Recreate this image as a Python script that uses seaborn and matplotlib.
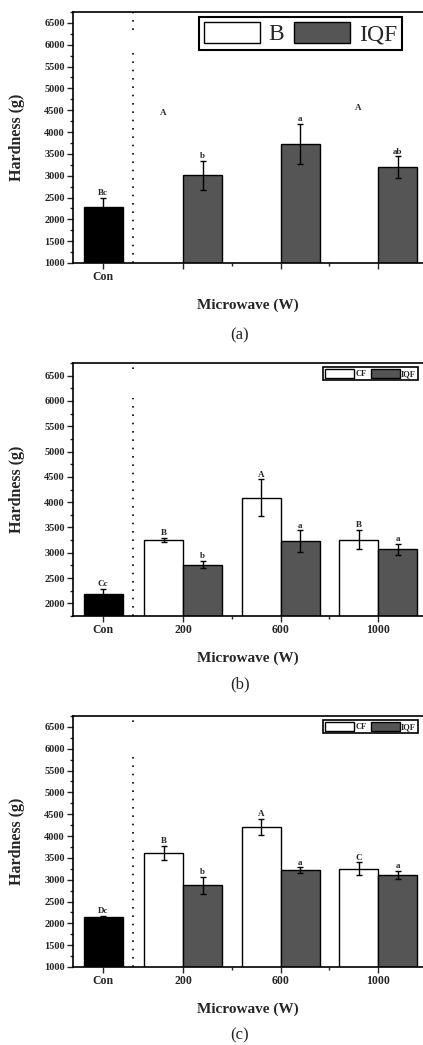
import numpy as np
import pandas as pd
import matplotlib
matplotlib.use('Agg')
import matplotlib.pyplot as plt
import seaborn as sns
from matplotlib.patches import Patch
from matplotlib.ticker import MultipleLocator

# ---------------- data ----------------
powers = ['200', '600', '1000']

# (a)
a_con, a_con_err, a_con_lab = 2290, 200, 'Bc'
a_iqf = [3010, 3720, 3190]
a_iqf_err = [330, 460, 250]
a_iqf_lab = ['b', 'a', 'ab']
a_cf_lab = ['A', '', 'A']
a_cf_lab_y = [4330, np.nan, 4440]   # letters shown without CF bars

# (b)
b_con, b_con_err, b_con_lab = 2190, 90, 'Cc'
b_cf = [3260, 4090, 3260]
b_cf_err = [40, 360, 195]
b_cf_lab = ['B', 'A', 'B']
b_iqf = [2760, 3230, 3070]
b_iqf_err = [70, 210, 110]
b_iqf_lab = ['b', 'a', 'a']

# (c)
c_con, c_con_err, c_con_lab = 2140, 30, 'Dc'
c_cf = [3610, 4210, 3250]
c_cf_err = [170, 180, 145]
c_cf_lab = ['B', 'A', 'C']
c_iqf = [2870, 3220, 3110]
c_iqf_err = [190, 60, 100]
c_iqf_lab = ['b', 'a', 'a']

# ---------------- style ----------------
sns.set_style('ticks')
plt.rcParams['font.family'] = ['Liberation Serif', 'DejaVu Serif']

IQF_COL = '#555555'
CON_POS = 1.18
GROUP_POS = [2, 3, 4]
OFF = 0.2


def letter(ax, x, y, s):
    if s and not np.isnan(y):
        ax.annotate(s, (x, y), xytext=(0, 3.5), textcoords='offset points',
                    ha='center', va='center', fontsize=6.5, fontweight='bold')


def panel(ax, con, con_err, con_lab, cf, cf_err, cf_lab, iqf, iqf_err, iqf_lab,
          ylow, show_x, legend_big, cf_lab_y=None):
    # grouped CF / IQF bars
    rows = []
    if cf is not None:
        rows += [{'pos': p, 'treat': 'CF', 'hardness': v} for p, v in zip(GROUP_POS, cf)]
    rows += [{'pos': p, 'treat': 'IQF', 'hardness': v} for p, v in zip(GROUP_POS, iqf)]
    df = pd.DataFrame(rows)
    sns.barplot(data=df, x='pos', y='hardness', hue='treat', hue_order=['CF', 'IQF'],
                palette={'CF': 'white', 'IQF': IQF_COL}, native_scale=True,
                dodge=True, width=0.8, errorbar=None, saturation=1,
                edgecolor='black', linewidth=1, legend=False, ax=ax)
    # control bar
    sns.barplot(x=[CON_POS], y=[con], native_scale=True, width=0.4, color='black',
                saturation=1, errorbar=None, edgecolor='black', linewidth=1, ax=ax)

    # error bars
    ekw = dict(fmt='none', ecolor='black', elinewidth=1, capsize=2, capthick=1)
    ax.errorbar([CON_POS], [con], yerr=[con_err], **ekw)
    iqf_x = [p + OFF for p in GROUP_POS]
    ax.errorbar(iqf_x, iqf, yerr=iqf_err, **ekw)
    cf_x = [p - OFF for p in GROUP_POS]
    if cf is not None:
        ax.errorbar(cf_x, cf, yerr=cf_err, **ekw)

    # significance letters
    letter(ax, CON_POS, con + con_err, con_lab)
    for x, v, e, s in zip(iqf_x, iqf, iqf_err, iqf_lab):
        letter(ax, x, v + e, s)
    if cf is not None:
        for x, v, e, s in zip(cf_x, cf, cf_err, cf_lab):
            letter(ax, x, v + e, s)
    else:
        for x, y, s in zip(cf_x, cf_lab_y, cf_lab):
            letter(ax, x, y, s)

    # dotted separator
    ax.axvline(1.49, ymin=0, ymax=0.86, color='black', lw=1.2, ls=(0, (1, 4)))
    ax.axvline(1.49, ymin=0.93 if legend_big else 0.975, ymax=1, color='black',
               lw=1.2, ls=(0, (1, 4)))

    # axes
    ax.set_xlim(0.872, 4.46)
    ax.set_ylim(ylow, 6750)
    ax.set_xticks([CON_POS] + GROUP_POS)
    ax.set_xticklabels(['Con'] + (powers if show_x else ['', '', '']),
                       fontsize=8.5, fontweight='bold')
    ax.set_xticks([2.5, 3.5], minor=True)
    ystart = 1000 if ylow <= 1000 else 2000
    ax.set_yticks(np.arange(ystart, 6501, 500))
    ax.yaxis.set_minor_locator(MultipleLocator(250))
    for t in ax.get_yticklabels():
        t.set_fontsize(7.5)
        t.set_fontweight('bold')
    ax.tick_params(which='major', direction='out', length=4, width=1, pad=2)
    ax.tick_params(which='minor', direction='out', length=2, width=1)
    ax.spines['right'].set_visible(False)
    for s in ['left', 'bottom', 'top']:
        ax.spines[s].set_linewidth(1.2)
        ax.spines[s].set_color('black')

    ax.set_ylabel('Hardness (g)', fontsize=11.5, fontweight='bold')
    ax.yaxis.set_label_coords(-0.16, 0.5)
    ax.yaxis.label.set_va('center')
    ax.set_xlabel('Microwave (W)', fontsize=11, fontweight='bold')
    ax.xaxis.set_label_coords(0.5, -0.167)
    ax.xaxis.label.set_va('center')

    handles = [Patch(facecolor='white', edgecolor='black', lw=1),
               Patch(facecolor=IQF_COL, edgecolor='black', lw=1)]
    if legend_big:
        leg = ax.legend(handles, ['B', 'IQF'], ncol=2, loc='upper left',
                        bbox_to_anchor=(0.36, 0.98), fancybox=False,
                        edgecolor='black', framealpha=1, fontsize=17,
                        handlelength=2.4, handleheight=1.0, handletextpad=0.35,
                        columnspacing=0.4, borderpad=0.2, borderaxespad=0)
        leg.get_frame().set_linewidth(1.5)
    else:
        leg = ax.legend(handles, ['CF', 'IQF'], ncol=2, loc='upper right',
                        bbox_to_anchor=(0.986, 0.984), fancybox=False,
                        edgecolor='black', framealpha=1,
                        prop={'size': 6, 'weight': 'bold'},
                        handlelength=3.5, handleheight=1.2, handletextpad=0.15,
                        columnspacing=0.5, borderpad=0.25, borderaxespad=0)
        leg.get_frame().set_linewidth(1.2)


fig = plt.figure(figsize=(4.23, 10.45), dpi=100)
W, H = 423, 1045
left, width = 73 / W, 350 / W
ax_a = fig.add_axes([left, 1 - 263 / H, width, 251 / H])
ax_b = fig.add_axes([left, 1 - 616 / H, width, 253 / H])
ax_c = fig.add_axes([left, 1 - 967 / H, width, 251 / H])

panel(ax_a, a_con, a_con_err, a_con_lab, None, None, a_cf_lab, a_iqf, a_iqf_err,
      a_iqf_lab, 1000, False, True, cf_lab_y=a_cf_lab_y)
panel(ax_b, b_con, b_con_err, b_con_lab, b_cf, b_cf_err, b_cf_lab, b_iqf, b_iqf_err,
      b_iqf_lab, 1750, True, False)
panel(ax_c, c_con, c_con_err, c_con_lab, c_cf, c_cf_err, c_cf_lab, c_iqf, c_iqf_err,
      c_iqf_lab, 1000, True, False)

for lab, yc in [('(a)', 335), ('(b)', 684), ('(c)', 1035)]:
    fig.text(240 / W, 1 - yc / H, lab, ha='center', va='center', fontsize=12)

fig.savefig('out.png', dpi=100)
